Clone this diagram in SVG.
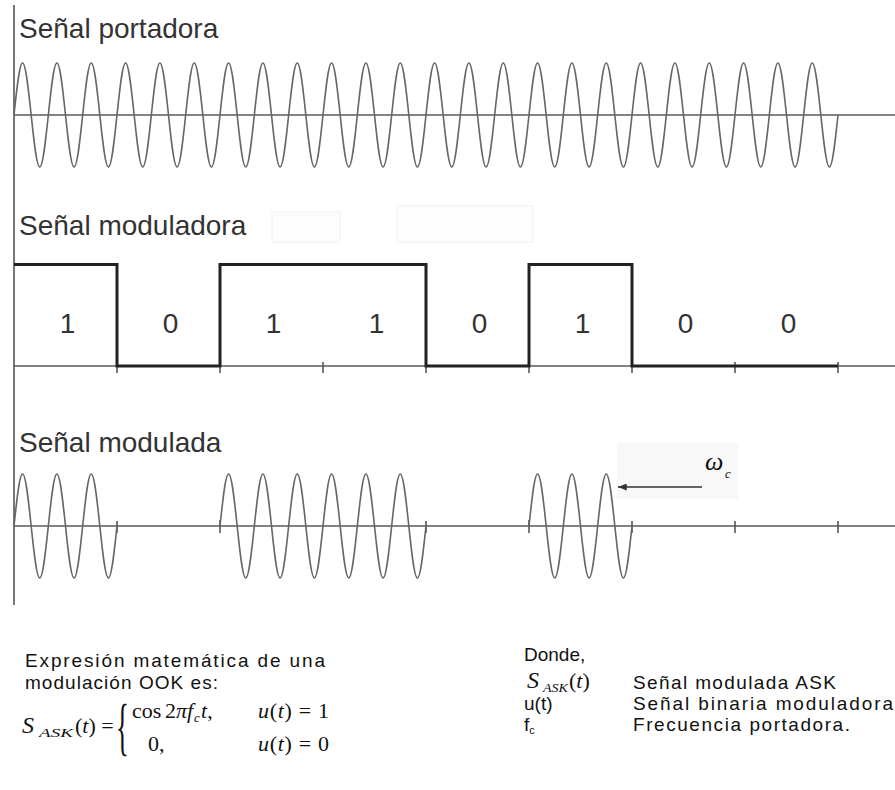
<svg xmlns="http://www.w3.org/2000/svg" width="895" height="790" viewBox="0 0 895 790">
<style>
.title{font-family:"Liberation Sans",Arial,sans-serif;font-size:28px;fill:#333}
.bit{font-family:"Liberation Sans",Arial,sans-serif;font-size:28px;fill:#333;text-anchor:middle}
.txt{font-family:"Liberation Sans",Arial,sans-serif;font-size:19px;fill:#111}
.m{font-family:"Liberation Serif","Times New Roman",serif;font-size:22px;fill:#111}
.i{font-style:italic}
.sub{font-family:"Liberation Serif","Times New Roman",serif;font-style:italic;font-size:13px;fill:#111}
.axis{stroke:#5a5a5a;stroke-width:1.6;fill:none}
.vaxis{stroke:#777;stroke-width:2;fill:none}
.wave{stroke:#666;stroke-width:1.6;fill:none}
.sq{stroke:#222;stroke-width:3;fill:none;stroke-linejoin:miter}
.tick{stroke:#555;stroke-width:1.6}
.faint{fill:#fdfdfd;stroke:#f1f1f1;stroke-width:1}
</style>
<defs>
<path id="burst" d="M0,0 c2.801,-26.65 5.49,-52 8.583,-52 c3.093,0 5.783,25.35 8.583,52 c2.801,26.65 5.49,52 8.583,52 c3.093,0 5.783,-25.35 8.583,-52 c2.801,-26.65 5.49,-52 8.583,-52 c3.093,0 5.783,25.35 8.583,52 c2.801,26.65 5.49,52 8.583,52 c3.093,0 5.783,-25.35 8.583,-52 c2.801,-26.65 5.49,-52 8.583,-52 c3.093,0 5.783,25.35 8.583,52 c2.801,26.65 5.49,52 8.583,52 c3.093,0 5.783,-25.35 8.583,-52"/>
<marker id="ah" viewBox="0 0 10 8" refX="10" refY="4" markerWidth="9" markerHeight="7" markerUnits="userSpaceOnUse" orient="auto">
<path d="M0,0 L10,4 L0,8 z" fill="#333"/>
</marker>
</defs>

<rect width="895" height="790" fill="#fff"/>

<g id="vertical-axis">
<line class="vaxis" x1="14" y1="5" x2="14" y2="605"/>
</g>

<g id="carrier">
<text class="title" x="19" y="38">Señal portadora</text>
<line class="axis" x1="14" y1="115" x2="895" y2="115"/>
<g class="wave">
<use href="#burst" x="14" y="115"/>
<use href="#burst" x="117" y="115"/>
<use href="#burst" x="220" y="115"/>
<use href="#burst" x="323" y="115"/>
<use href="#burst" x="426" y="115"/>
<use href="#burst" x="529" y="115"/>
<use href="#burst" x="632" y="115"/>
<use href="#burst" x="735" y="115"/>
</g>
</g>

<g id="modulating">
<rect class="faint" x="272" y="212" width="68" height="30"/>
<rect class="faint" x="397" y="206" width="136" height="36"/>
<text class="title" x="19" y="235">Señal moduladora</text>
<line class="axis" x1="14" y1="366" x2="895" y2="366" stroke="#888"/>
<g class="tick">
<line x1="117" y1="362" x2="117" y2="373"/>
<line x1="220" y1="362" x2="220" y2="373"/>
<line x1="323" y1="362" x2="323" y2="373"/>
<line x1="426" y1="362" x2="426" y2="373"/>
<line x1="529" y1="362" x2="529" y2="373"/>
<line x1="632" y1="362" x2="632" y2="373"/>
<line x1="735" y1="362" x2="735" y2="373"/>
<line x1="838" y1="362" x2="838" y2="373"/>
</g>
<path class="sq" d="M14,264.5 H117 V366 H220 V264.5 H426 V366 H529 V264.5 H632 V366 H838"/>
<text class="bit" x="67.5" y="333">1</text>
<text class="bit" x="170.5" y="333">0</text>
<text class="bit" x="273.5" y="333">1</text>
<text class="bit" x="376.5" y="333">1</text>
<text class="bit" x="479.5" y="333">0</text>
<text class="bit" x="582.5" y="333">1</text>
<text class="bit" x="685.5" y="333">0</text>
<text class="bit" x="788.5" y="333">0</text>
</g>

<g id="modulated">
<text class="title" x="19" y="452">Señal modulada</text>
<line class="axis" x1="14" y1="526" x2="895" y2="526"/>
<g class="tick">
<line x1="117" y1="521" x2="117" y2="533"/>
<line x1="220" y1="520" x2="220" y2="533"/>
<line x1="426" y1="521" x2="426" y2="533"/>
<line x1="529" y1="520" x2="529" y2="533"/>
<line x1="632" y1="521" x2="632" y2="533"/>
<line x1="735" y1="521" x2="735" y2="533"/>
<line x1="838" y1="521" x2="838" y2="533"/>
</g>
<g class="wave">
<use href="#burst" x="14" y="526"/>
<use href="#burst" x="220" y="526"/>
<use href="#burst" x="323" y="526"/>
<use href="#burst" x="529" y="526"/>
</g>
</g>

<g id="omega-label">
<rect x="617" y="443" width="121" height="56" fill="#f8f8f8"/>
<text class="m i" x="705" y="470" style="font-size:26px">ω</text>
<text class="sub" x="725" y="478">c</text>
</g>

<g id="connectors">
<line x1="702" y1="487" x2="618" y2="487" stroke="#333" stroke-width="1.6" marker-end="url(#ah)"/>
</g>

<g id="expression">
<text class="txt" x="25" y="667" textLength="300" lengthAdjust="spacing">Expresión matemática de una</text>
<text class="txt" x="25" y="689" textLength="193" lengthAdjust="spacing">modulación OOK es:</text>
<text class="m i" x="22" y="733" style="font-size:24px">S</text>
<text class="sub" x="39" y="737" textLength="34" lengthAdjust="spacingAndGlyphs">ASK</text>
<text class="m" x="75" y="733">(<tspan class="i">t</tspan>) =</text>
<text class="m" transform="translate(116,748) scale(0.42,1)" style="font-size:64px">{</text>
<text class="m" x="132" y="718">cos</text>
<text class="m" x="165" y="718">2</text>
<text class="m i" x="176" y="718">π</text>
<text class="m i" x="187" y="718">f</text>
<text class="sub" x="194" y="722">c</text>
<text class="m" x="201" y="718"><tspan class="i">t</tspan>,</text>
<text class="m" x="258" y="718" textLength="71" lengthAdjust="spacing"><tspan class="i">u</tspan>(<tspan class="i">t</tspan>) = 1</text>
<text class="m" x="148" y="751">0,</text>
<text class="m" x="258" y="751" textLength="71" lengthAdjust="spacing"><tspan class="i">u</tspan>(<tspan class="i">t</tspan>) = 0</text>
</g>

<g id="legend">
<text class="txt" x="524" y="661">Donde,</text>
<text class="m i" x="527" y="688" style="font-size:24px">S</text>
<text class="sub" x="543" y="692" textLength="25" lengthAdjust="spacingAndGlyphs">ASK</text>
<text class="m" x="569" y="688">(<tspan class="i">t</tspan>)</text>
<text class="txt" x="633" y="689" textLength="203" lengthAdjust="spacing">Señal modulada ASK</text>
<text class="txt" x="524" y="710">u(t)</text>
<text class="txt" x="633" y="710" textLength="260" lengthAdjust="spacing">Señal binaria moduladora</text>
<text class="txt" x="524" y="731">f<tspan style="font-size:11px" dy="3">c</tspan></text>
<text class="txt" x="633" y="731" textLength="217" lengthAdjust="spacing">Frecuencia portadora.</text>
</g>
</svg>
